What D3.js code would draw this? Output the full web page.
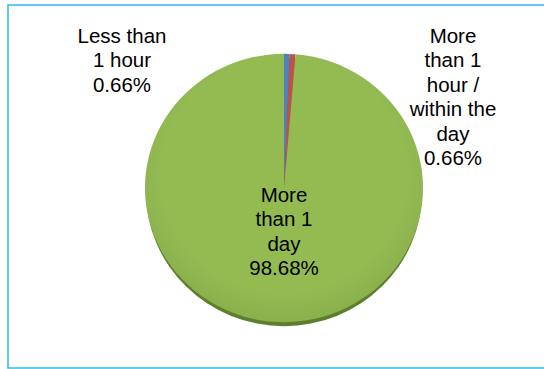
<!DOCTYPE html>
<html><head><meta charset="utf-8">
<script src="https://cdn.jsdelivr.net/npm/d3@7"></script>
<style>html,body{margin:0;padding:0;background:#fff;}svg{display:block;}</style>
</head><body>
<script>
const categories = ["Less than 1 hour", "More than 1 hour / within the day", "More than 1 day"];
const values = [0.66, 0.66, 98.68];
const labelLines = [
  ["Less than", "1 hour", "0.66%"],
  ["More", "than 1", "hour /", "within the", "day", "0.66%"],
  ["More", "than 1", "day", "98.68%"]
];
const colors = ["#4f81bd", "#c0504d", "#93bb52"];

const W = 544, H = 369;
const svg = d3.select("body").append("svg").attr("width", W).attr("height", H);

// border
svg.append("rect").attr("x", 8).attr("y", 5).attr("width", W + 10).attr("height", 363)
  .attr("fill", "none").attr("stroke", "#2bbbe8").attr("stroke-width", 1.5);

const cx = 284, cy = 188, r = 139, sy = 0.965;

// rim/shadow
svg.append("ellipse").attr("cx", cx).attr("cy", cy + 4).attr("rx", r - 1).attr("ry", r * sy)
  .attr("fill", "#5d7f2c");

const g = svg.append("g").attr("transform", `translate(${cx},${cy}) scale(1,${sy})`);
const pie = d3.pie().sort(null).value(d => d)(values);
const arc = d3.arc().innerRadius(0).outerRadius(r);
g.selectAll("path").data(pie).join("path")
  .attr("d", arc).attr("fill", (d, i) => colors[i]);

// subtle radial shading
const defs = svg.append("defs");
const grad = defs.append("radialGradient").attr("id", "sh").attr("cx", "50%").attr("cy", "45%").attr("r", "55%");
grad.append("stop").attr("offset", "80%").attr("stop-color", "#000").attr("stop-opacity", 0);
grad.append("stop").attr("offset", "100%").attr("stop-color", "#000").attr("stop-opacity", 0.06);
g.append("circle").attr("r", r).attr("fill", "url(#sh)");

// labels
const labelPos = [[122, 43], [453, 43], [284, 202]];
const lh = 24.4;
labelLines.forEach((lines, i) => {
  const t = svg.append("text").attr("text-anchor", "middle")
    .attr("font-family", "Liberation Sans, Arial, sans-serif").attr("font-size", 20.5)
    .attr("fill", "#000");
  lines.forEach((s, j) => {
    t.append("tspan").attr("x", labelPos[i][0]).attr("y", labelPos[i][1] + j * lh).text(s);
  });
});
</script>
</body></html>
